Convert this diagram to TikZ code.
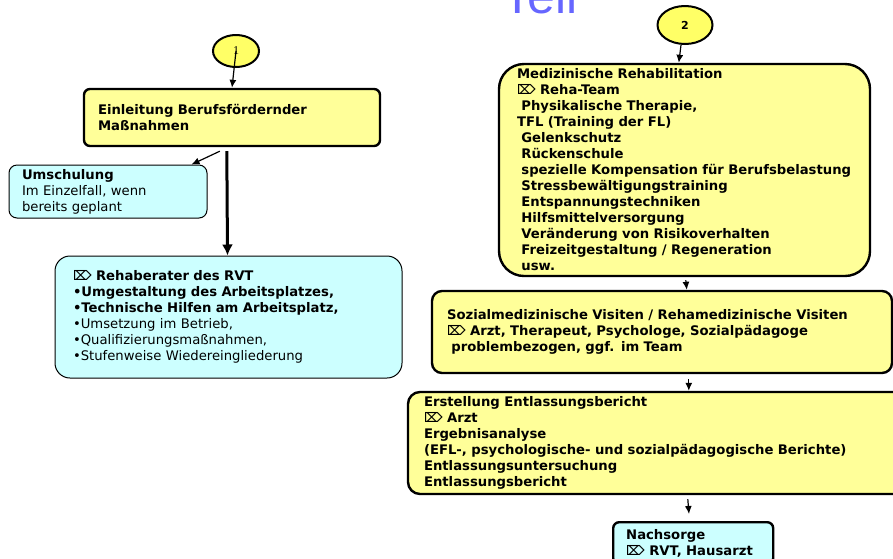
\documentclass[tikz,border=0pt]{standalone}
\usepackage{fontspec}
\setmainfont{DejaVu Sans}
\newfontfamily\teilfont{Liberation Sans}
\newfontfamily\serfont{Liberation Serif}
\usetikzlibrary{arrows.meta,calc,shapes.geometric}
\definecolor{boxyellow}{HTML}{FFFF99}
\definecolor{circyellow}{HTML}{FFFF66}
\definecolor{boxcyan}{HTML}{CCFFFF}
\definecolor{teilblue}{HTML}{6666FF}
\tikzset{
  txt/.style={font=\fontsize{13.2}{16}\selectfont\bfseries},
  ybox/.style={draw=black, line width=2.4pt, fill=boxyellow, align=left, inner ysep=0pt, txt},
  cbox/.style={draw=black, line width=1pt, fill=boxcyan, align=left, inner ysep=0pt, txt},
  circ/.style={draw=black, line width=2pt, fill=circyellow, ellipse, inner sep=0pt},
  arr/.style={-{Latex[length=8pt,width=7pt]}, line width=1.2pt},
  bigarr/.style={-{Latex[length=11pt,width=11pt]}, line width=3pt},
}
\begin{document}
\begin{tikzpicture}[x=1pt,y=-1pt]
\useasboundingbox (0,0) rectangle (893,558);

\node[anchor=base west, inner sep=0pt, text=teilblue, font=\teilfont\fontsize{50}{50}\selectfont] (teil) at (502,13) {Teil};

% left column
\node[circ, minimum width=46pt, minimum height=32pt] (c1) at (236,51) {\serfont\fontsize{12}{12}\selectfont 1};
\node[ybox, rounded corners=6pt, minimum width=296pt, minimum height=57pt, text width=268pt, inner xsep=14pt] (einl) at (232,117.5)
 {Einleitung Berufsfördernder\\Maßnahmen};
\node[cbox, rounded corners=8pt, minimum width=198pt, minimum height=53pt, text width=172pt, inner xsep=13pt] (ums) at (108,191.5)
 {Umschulung\\\mdseries Im Einzelfall, wenn\\\mdseries bereits geplant};
\node[cbox, rounded corners=15pt, minimum width=347pt, minimum height=122pt, text width=311pt, inner xsep=18pt] (reha) at (228.5,317)
 {⌦ Rehaberater des RVT\\•Umgestaltung des Arbeitsplatzes,\\•Technische Hilfen am Arbeitsplatz,\\\mdseries •Umsetzung im Betrieb,\\\mdseries •Qualifizierungsmaßnahmen,\\\mdseries •Stufenweise Wiedereingliederung};

\coordinate (einlA) at ($(einl.south west)+(137,4)$);
\coordinate (einlB) at ($(einl.south west)+(144,4)$);
\coordinate (umsT) at ($(ums.north west)+(183,0)$);
\coordinate (rehaT) at ($(reha.north west)+(173,0)$);
\draw[arr] (c1.center) -- (einl.north);
\draw[arr] (einlA) -- (umsT);
\draw[bigarr] (einlB) -- (rehaT);

% right column
\node[circ, minimum width=55pt, minimum height=38pt] (c2) at (685,25) {\fontsize{11}{11}\selectfont\bfseries 2};
\node[ybox, rounded corners=25pt, minimum width=371pt, minimum height=212pt, text width=335pt, inner xsep=18pt] (med) at (684.5,170)
 {Medizinische Rehabilitation\\⌦ Reha-Team\\ \ Physikalische Therapie,\\TFL (Training der FL)\\ \ Gelenkschutz\\ \ Rückenschule\\ \ spezielle Kompensation für Berufsbelastung\\ \ Stressbewältigungstraining\\ \ Entspannungstechniken\\ \ Hilfsmittelversorgung\\ \ Veränderung von Risikoverhalten\\ \ Freizeitgestaltung / Regeneration\\ \ usw.};
\node[ybox, rounded corners=10pt, minimum width=460pt, minimum height=82pt, text width=430pt, inner xsep=15pt] (soz) at (662,332)
 {Sozialmedizinische Visiten / Rehamedizinische Visiten\\⌦ Arzt, Therapeut, Psychologe, Sozialpädagoge\\ \ problembezogen, ggf. im Team};
\node[ybox, rounded corners=12pt, minimum width=500pt, minimum height=102pt, text width=468pt, inner xsep=16pt] (erst) at (658,443)
 {Erstellung Entlassungsbericht\\⌦ Arzt\\Ergebnisanalyse\\(EFL-, psychologische- und sozialpädagogische Berichte)\\Entlassungsuntersuchung\\Entlassungsbericht};
\node[cbox, line width=2.4pt, rounded corners=6pt, minimum width=160pt, minimum height=42pt, text width=134pt, inner xsep=13pt, anchor=north west] (nach) at (612,521)
 {Nachsorge\\⌦ RVT, Hausarzt};

\coordinate (c2B) at ($(c2.south)+(-4,0)$);
\coordinate (medT) at ($(med.north west)+(181,0)$);
\coordinate (medB) at ($(med.south west)+(188,3)$);
\coordinate (sozT) at ($(soz.north west)+(256,0)$);
\coordinate (sozB) at ($(soz.south west)+(258,5)$);
\coordinate (erstT) at ($(erst.north west)+(282,0)$);
\coordinate (erstB) at ($(erst.south west)+(281,4)$);
\coordinate (nachT) at ($(nach.north west)+(77,-7)$);
\draw[arr] (c2B) -- (medT);
\draw[arr] (medB) -- (sozT);
\draw[arr] (sozB) -- (erstT);
\draw[arr] (erstB) -- (nachT);
\end{tikzpicture}
\end{document}
